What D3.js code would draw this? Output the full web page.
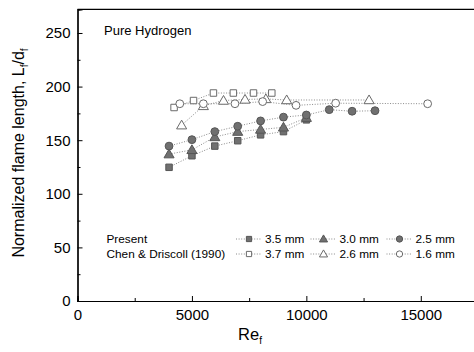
<!DOCTYPE html>
<html><head><meta charset="utf-8">
<script src="https://cdn.jsdelivr.net/npm/d3@7"></script>
<style>body{margin:0;background:#fff}svg{display:block}text{font-family:"Liberation Sans",Arial,sans-serif}</style>
</head><body><svg id="c" width="474" height="352"></svg>
<script>
// ---- data ----
const re35 = [4000, 5000, 6000, 7000, 8000, 9000, 10000];
const L35  = [124.7, 135.5, 144.5, 149.5, 155, 158, 169];
const re30 = [4000, 5000, 6000, 7000, 8000, 9000, 10000];
const L30  = [137, 141, 153, 158, 160, 162, 171];
const re25 = [4000, 5000, 6000, 7000, 8000, 9000, 10000, 11000, 12000, 13000];
const L25  = [144.5, 150.5, 158, 163, 168, 171.5, 173.5, 178.5, 177, 177.5];
const re37 = [4220, 5070, 5940, 6810, 7690, 8490];
const L37  = [180.5, 187, 194, 194, 194, 194];
const re26 = [4550, 5500, 6380, 7320, 8230, 9140, 12740];
const L26  = [164, 182, 187, 188, 188.5, 187.5, 187.5];
const re16 = [4470, 5500, 6880, 8090, 9550, 11280, 15300];
const L16  = [184, 184, 184, 186, 182.5, 184.5, 184];
const seriesNames = ["3.5 mm", "3.0 mm", "2.5 mm", "3.7 mm", "2.6 mm", "1.6 mm"];
const groupNames = ["Present", "Chen & Driscoll (1990)"];
const xTicks = [0, 5000, 10000, 15000];
const xMinor = [2500, 7500, 12500, 17500];
const yTicks = [0, 50, 100, 150, 200, 250];
const yMinor = [25, 75, 125, 175, 225];

const series = [
  {name: seriesNames[0], re: re35, L: L35, sym: d3.symbolSquare, filled: true},
  {name: seriesNames[1], re: re30, L: L30, sym: d3.symbolTriangle, filled: true},
  {name: seriesNames[2], re: re25, L: L25, sym: d3.symbolCircle, filled: true},
  {name: seriesNames[3], re: re37, L: L37, sym: d3.symbolSquare, filled: false},
  {name: seriesNames[4], re: re26, L: L26, sym: d3.symbolTriangle, filled: false},
  {name: seriesNames[5], re: re16, L: L16, sym: d3.symbolCircle, filled: false}
];
function sizeOf(s){ return s===d3.symbolSquare?42:(s===d3.symbolTriangle?44:48); }

const svg = d3.select("#c");
const x = d3.scaleLinear().domain([0, 17500]).range([77.5, 478]);
const y = d3.scaleLinear().domain([0, 272]).range([301, 9.4]);

// series lines
const line = d3.line().x(d => x(d[0])).y(d => y(d[1]));
series.forEach(s => {
  const pts = s.re.map((r, i) => [r, s.L[i]]);
  svg.append("path").attr("d", line(pts)).attr("fill", "none")
    .attr("stroke", "#8a8a8a").attr("stroke-width", 1).attr("stroke-dasharray", "1,1.6");
});
// markers
series.forEach(s => {
  const sym = d3.symbol().type(s.sym).size(sizeOf(s.sym));
  s.re.forEach((r, i) => {
    svg.append("path").attr("d", sym())
      .attr("transform", `translate(${x(r)},${y(s.L[i]) + (s.sym===d3.symbolTriangle?0.8:0)})`)
      .attr("fill", s.filled ? "#707070" : "#fff")
      .attr("stroke", s.filled ? "#565656" : "#6a6a6a").attr("stroke-width", 1);
  });
});

// frame (top line)
svg.append("line").attr("x1", x(0)).attr("x2", 474).attr("y1", y(272)).attr("y2", y(272))
  .attr("stroke", "#000").attr("stroke-width", 1.2);

// axes
svg.append("g").attr("transform", `translate(0,${y(0)})`)
  .call(d3.axisBottom(x).tickValues(xTicks).tickSize(-5).tickPadding(8).tickFormat(d3.format("d")));
svg.append("g").attr("transform", `translate(0,${y(0)})`)
  .call(d3.axisBottom(x).tickValues(xMinor).tickSize(-3).tickFormat(""));
svg.append("g").attr("transform", `translate(${x(0)},0)`)
  .call(d3.axisLeft(y).tickValues(yTicks).tickSize(-5).tickPadding(7));
svg.append("g").attr("transform", `translate(${x(0)},0)`)
  .call(d3.axisLeft(y).tickValues(yMinor).tickSize(-3).tickFormat(""));
svg.selectAll(".domain").attr("stroke", "#000").attr("stroke-width", 1.2);
svg.selectAll(".tick line").attr("stroke", "#000").attr("stroke-width", 1);
svg.selectAll(".tick text").attr("font-size", 15).attr("fill", "#000")
  .attr("font-family", "'Liberation Sans',Arial,sans-serif");

// axis titles
const xt = svg.append("text").attr("x", 250).attr("y", 340).attr("text-anchor", "middle")
  .attr("font-size", 16.5).attr("fill", "#000");
xt.append("tspan").text("Re");
xt.append("tspan").attr("font-size", 10).attr("dy", 4).text("f");

const yt = svg.append("text").attr("transform", "translate(24,153) rotate(-90)")
  .attr("text-anchor", "middle").attr("font-size", 16).attr("fill", "#000");
yt.append("tspan").text("Normalized flame length, L");
yt.append("tspan").attr("font-size", 10).attr("dy", 4).text("f");
yt.append("tspan").attr("dy", -4).text("/d");
yt.append("tspan").attr("font-size", 10).attr("dy", 4).text("f");

// annotation
svg.append("text").attr("x", 104).attr("y", 35).attr("font-size", 13).attr("fill", "#000").text("Pure Hydrogen");

// legend
const rowY = [239, 254];
groupNames.forEach((g, i) => {
  svg.append("text").attr("x", 106.5).attr("y", rowY[i] + 4.3).attr("font-size", 11.8)
    .attr("fill", "#000").text(g);
});
const colX = [249, 323.5, 399.5];
series.forEach((s, k) => {
  const row = k < 3 ? 0 : 1, col = k % 3;
  const cx = colX[col], cy = rowY[row];
  svg.append("line").attr("x1", cx - 13).attr("x2", cx + 13).attr("y1", cy).attr("y2", cy)
    .attr("stroke", "#8a8a8a").attr("stroke-width", 1).attr("stroke-dasharray", "1,1.6");
  svg.append("path").attr("d", d3.symbol().type(s.sym).size(sizeOf(s.sym) * 0.65)())
    .attr("transform", `translate(${cx},${cy + (s.sym===d3.symbolTriangle?0.6:0)})`)
    .attr("fill", s.filled ? "#707070" : "#fff")
    .attr("stroke", s.filled ? "#565656" : "#6a6a6a").attr("stroke-width", 1);
  svg.append("text").attr("x", cx + 16).attr("y", cy + 4.3).attr("font-size", 11.8)
    .attr("fill", "#000").text(s.name);
});
</script></body></html>
